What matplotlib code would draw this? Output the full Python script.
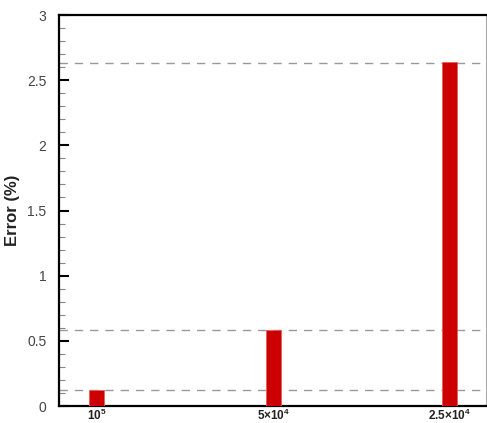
import matplotlib
matplotlib.use("Agg")
import matplotlib.pyplot as plt
from matplotlib.ticker import MultipleLocator

categories = [r'$\mathbf{10^5}$', r'$\mathbf{5{\times}10^4}$', r'$\mathbf{2.5{\times}10^4}$']
errors = [0.12, 0.58, 2.64]
ref_lines = [0.12, 0.58, 2.63]

plt.rcParams['font.family'] = ['Liberation Sans', 'DejaVu Sans']
plt.rcParams['mathtext.fontset'] = 'custom'
plt.rcParams['mathtext.rm'] = 'Liberation Sans'
plt.rcParams['mathtext.bf'] = 'Liberation Sans:bold'

fig = plt.figure(figsize=(4.87, 4.23), dpi=100)
ax = fig.add_axes([59/487, 17/423, 427/487, 391/423])

x = list(range(len(categories)))
ax.bar(x, errors, width=0.085, color='#cc0000', edgecolor='#e86060', linewidth=0.6, zorder=3)
for v in ref_lines:
    ax.axhline(v, color='#999999', linestyle=(0, (6, 5)), linewidth=1.0, zorder=2)

ax.set_xlim(-0.215, 2.205)
ax.set_ylim(0, 3)
ax.set_xticks(x)
ax.set_xticklabels(categories, fontsize=8.5, color='#222222')
ax.tick_params(axis='x', length=0, pad=1.5)
ax.yaxis.set_major_locator(MultipleLocator(0.5))
ax.yaxis.set_minor_locator(MultipleLocator(0.1))
ax.set_yticks([0, 0.5, 1, 1.5, 2, 2.5, 3])
ax.set_yticklabels(['0', '0.5', '1', '1.5', '2', '2.5', '3'])
ax.tick_params(axis='y', which='major', direction='in', length=7, width=1.5, labelsize=10, labelcolor='#444444', pad=9)
ax.tick_params(axis='y', which='minor', direction='in', length=4, width=0.8, color='#888888')
ax.set_ylabel('Error (%)', fontsize=12, fontweight='bold', color='#222222', labelpad=5)

for s in ['left', 'bottom', 'top']:
    ax.spines[s].set_linewidth(1.6)
    ax.spines[s].set_color('black')
ax.spines['right'].set_linewidth(0.8)
ax.spines['right'].set_color('#aaaaaa')

fig.savefig('out.png', dpi=100)
